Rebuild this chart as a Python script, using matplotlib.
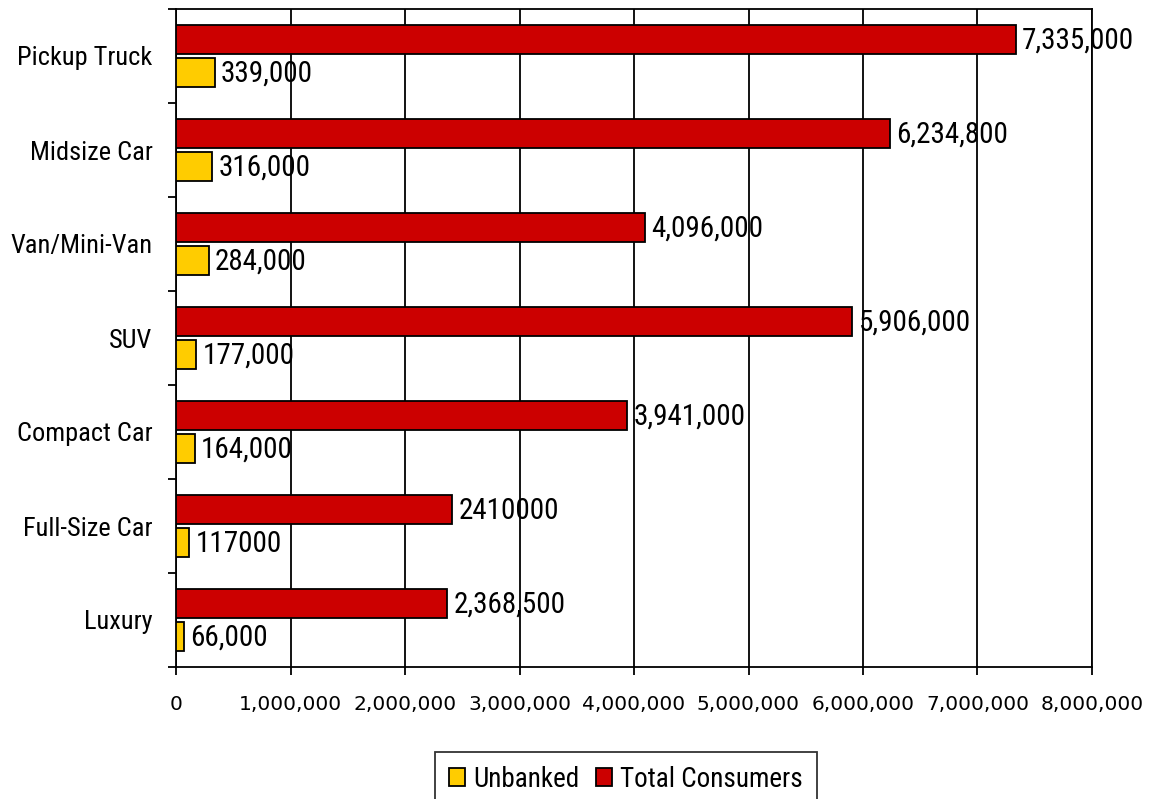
import numpy as np
import matplotlib
matplotlib.use('Agg')
import matplotlib.pyplot as plt
from matplotlib.patches import Patch

# vehicle type ownership, top to bottom
categories = ['Pickup Truck', 'Midsize Car', 'Van/Mini-Van', 'SUV',
              'Compact Car', 'Full-Size Car', 'Luxury']
total_consumers = [7335000, 6234800, 4096000, 5906000, 3941000, 2410000, 2368500]
unbanked = [339000, 316000, 284000, 177000, 164000, 117000, 66000]
# the Full-Size Car labels were entered without thousands separators
plain_labels = ['Full-Size Car']

narrow = ['Liberation Sans Narrow', 'Roboto Condensed', 'Liberation Sans', 'DejaVu Sans']
red = '#CC0000'
yellow = '#FFCC00'

fig = plt.figure(figsize=(11.51, 7.99), dpi=100)
ax = fig.add_axes([176 / 1151, 1 - 667 / 799, 916 / 1151, 658 / 799])

y = np.arange(len(categories))
h = 0.31
off = 0.175
ax.barh(y - off, total_consumers, height=h, color=red, edgecolor='black',
        linewidth=1.3, zorder=3)
ax.barh(y + off, unbanked, height=h, color=yellow, edgecolor='black',
        linewidth=1.3, zorder=3)

def fmt(v, cat):
    return str(v) if cat in plain_labels else f'{v:,}'

for i, cat in enumerate(categories):
    ax.annotate(fmt(total_consumers[i], cat), (total_consumers[i], y[i] - off),
                xytext=(4.5, -1), textcoords='offset points', va='center',
                ha='left', fontsize=21, family=narrow, zorder=4,
                annotation_clip=False)
    ax.annotate(fmt(unbanked[i], cat), (unbanked[i], y[i] + off),
                xytext=(4.5, -1), textcoords='offset points', va='center',
                ha='left', fontsize=21, family=narrow, zorder=4)

ax.set_xlim(0, 8000000)
ax.set_ylim(len(categories) - 0.5, -0.5)

xt = np.arange(0, 8000001, 1000000)
ax.set_xticks(xt)
ax.set_xticklabels([f'{v:,}' for v in xt], fontsize=14.5)
ax.tick_params(axis='x', length=6, width=1.3, pad=14, direction='out')
ax.grid(axis='x', color='black', linewidth=1.3, zorder=0)

# category names centred in each band, tick marks on band edges
ax.set_yticks(y)
ax.set_yticklabels(categories, fontsize=19, family=narrow)
ax.tick_params(axis='y', which='major', length=0, pad=17)
ax.set_yticks(np.arange(-0.5, len(categories)), minor=True)
ax.tick_params(axis='y', which='minor', length=6, width=1.3, direction='out')

for s in ax.spines.values():
    s.set_linewidth(1.3)
    s.set_color('black')

handles = [Patch(facecolor=yellow, edgecolor='black', linewidth=1.3, label='Unbanked'),
           Patch(facecolor=red, edgecolor='black', linewidth=1.3, label='Total Consumers')]
leg = fig.legend(handles=handles, loc='upper center', ncol=2,
                 bbox_to_anchor=(626 / 1151, 1 - 752 / 799), borderaxespad=0,
                 prop={'family': narrow, 'size': 19.5}, frameon=True,
                 fancybox=False, handlelength=0.6, handleheight=0.6,
                 handletextpad=0.3, columnspacing=0.6, borderpad=0.5)
leg.get_frame().set_edgecolor('black')
leg.get_frame().set_linewidth(1.3)

fig.savefig('out.png', dpi=100)
